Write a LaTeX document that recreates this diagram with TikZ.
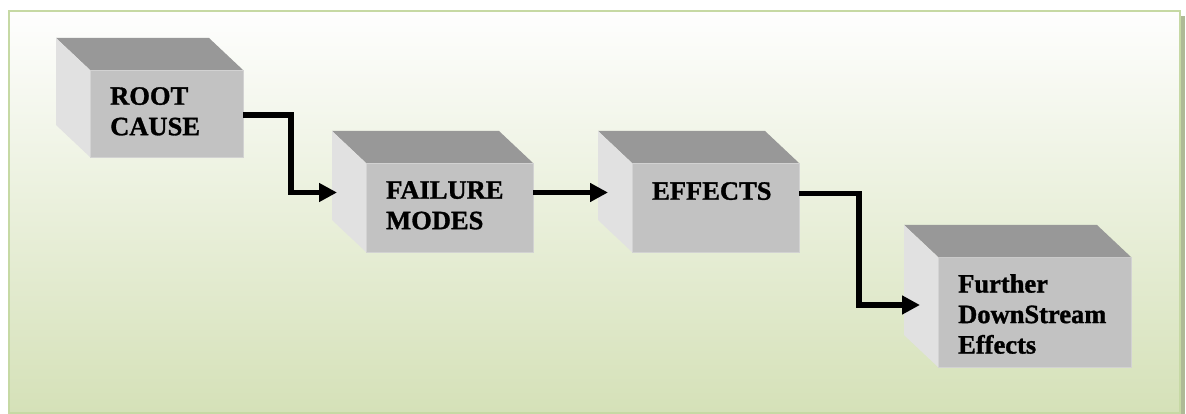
\documentclass[tikz,border=0pt]{standalone}
\usepackage{fontspec}
\setmainfont{Liberation Serif}[BoldFeatures={FakeBold=1.2}]
\usetikzlibrary{calc,arrows.meta}

\definecolor{frameline}{HTML}{C6D9A4}
\definecolor{bgtop}{HTML}{FEFEFE}
\definecolor{bgbottom}{HTML}{D5E1B8}
\definecolor{framedrop}{HTML}{AEBA96}
\definecolor{frontgray}{HTML}{C2C2C2}
\definecolor{frontedge}{HTML}{D2D2D2}
\definecolor{topgray}{HTML}{989898}
\definecolor{sidegray}{HTML}{E1E1E1}

\tikzset{
  face/.style={rectangle, fill=frontgray, draw=frontedge, line width=0.8pt,
               inner sep=0pt, outer sep=0pt},
  topface/.style={fill=topgray},
  sideface/.style={fill=sidegray},
  boxtext/.style={anchor=north west, inner sep=0pt, align=left,
                  font=\fontsize{26.5}{30.5}\selectfont\bfseries},
  conn/.style={line width=5.8pt, draw=black,
               -{Triangle[length=18pt,width=18pt]}},
}

% top and left faces of a block, drawn behind its front face
\newcommand\blockfaces[1]{%
  \fill[topface] (#1.north west) -- ++(-34,-32)
     -- ($(#1.north east)+(-34,-32)$) -- (#1.north east) -- cycle;
  \fill[sideface] (#1.north west) -- ++(-34,-32)
     -- ($(#1.south west)+(-34,-32)$) -- (#1.south west) -- cycle;
}

\begin{document}
\begin{tikzpicture}[x=1pt,y=-1pt]
  \useasboundingbox (0,0) rectangle (1186,414);

  % panel with drop edge on the right
  \fill[framedrop] (1181,16) rectangle (1184.5,414);
  \shade[top color=bgtop, bottom color=bgbottom] (9,11) rectangle (1180,413);
  \draw[frameline, line width=2.5pt] (9,11) rectangle (1180,413);

  % front faces of the blocks
  \node[face, minimum width=153pt, minimum height=87pt]  (root)    at (166.5,113.5) {};
  \node[face, minimum width=167pt, minimum height=89pt]  (failure) at (449.5,207.5) {};
  \node[face, minimum width=167pt, minimum height=89pt]  (effects) at (715.5,207.5) {};
  \node[face, minimum width=193pt, minimum height=110pt] (further) at (1034.5,312) {};

  \blockfaces{root}
  \blockfaces{failure}
  \blockfaces{effects}
  \blockfaces{further}

  % labels
  \node[boxtext] (rootT)    at ($(root.north west)+(20,17)$)    {ROOT\\CAUSE};
  \node[boxtext] (failureT) at ($(failure.north west)+(20,18)$) {FAILURE\\MODES};
  \node[boxtext] (effectsT) at ($(effects.north west)+(20,19)$) {EFFECTS};
  \node[boxtext] (furtherT) at ($(further.north west)+(20,17)$) {Further\\DownStream\\Effects};

  % arrow entry points on the side faces
  \coordinate (failIn) at ($(failure.west)+(-29,-15)$);
  \coordinate (effIn)  at ($(effects.west)+(-24,-15)$);
  \coordinate (furIn)  at ($(further.west)+(-18,-7)$);

  % connectors
  \draw[conn] ([yshift=-1.5pt]root.east) -- ++(48,0) |- (failIn);
  \draw[conn] ([yshift=15pt]failure.east) -- (effIn);
  \draw[conn] ([yshift=14pt]effects.east) -- ++(60,0) |- (furIn);
\end{tikzpicture}
\end{document}
